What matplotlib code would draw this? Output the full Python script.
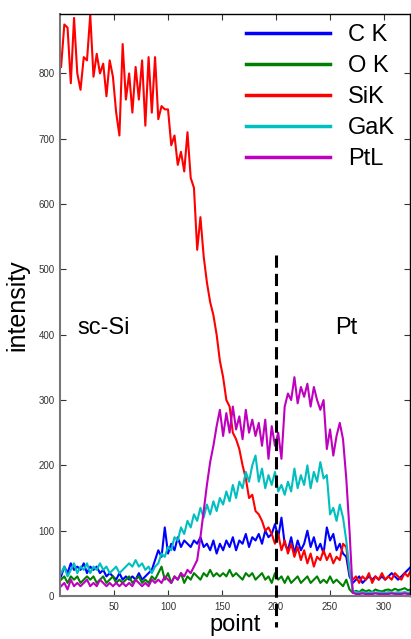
import numpy as np
import matplotlib
matplotlib.use("Agg")
import matplotlib.pyplot as plt

plt.rcParams['font.family'] = ['Liberation Sans', 'DejaVu Sans']

# point index (sampled every 3 points)
point = np.arange(1, 326, 3)

sik = [810, 875, 870, 785, 885, 800, 775, 825, 820, 890,
       795, 830, 800, 815, 765, 820, 795, 740, 705, 845,
       760, 800, 740, 810, 760, 820, 720, 825, 740, 825,
       730, 750, 745, 745, 690, 705, 660, 680, 650, 710,
       640, 625, 530, 580, 520, 480, 450, 430, 400, 360,
       335, 300, 290, 250, 240, 225, 200, 180, 150, 155,
       130, 125, 115, 100, 105, 95, 80, 95, 70, 85,
       65, 80, 60, 75, 55, 70, 50, 65, 45, 60,
       55, 70, 55, 65, 50, 60, 55, 80, 75, 35,
       25, 30, 20, 30, 25, 35, 20, 30, 25, 35,
       25, 30, 25, 35, 30, 25, 35, 30, 40]

ck = [30, 45, 35, 50, 40, 45, 40, 50, 35, 45,
      40, 45, 35, 40, 30, 35, 30, 25, 35, 25,
      30, 25, 30, 25, 35, 25, 30, 35, 40, 55,
      70, 60, 105, 65, 80, 70, 90, 75, 85, 80,
      75, 85, 80, 90, 75, 80, 70, 85, 65, 80,
      70, 85, 75, 90, 70, 85, 80, 95, 75, 90,
      85, 95, 80, 100, 90, 95, 110, 90, 120, 80,
      70, 90, 65, 85, 70, 80, 100, 75, 90, 70,
      80, 65, 105, 85, 95, 70, 80, 65, 60, 30,
      20, 25, 30, 20, 25, 30, 25, 30, 25, 30,
      25, 30, 35, 30, 25, 30, 35, 40, 45]

ok = [25, 30, 20, 30, 25, 30, 20, 25, 30, 25,
      30, 20, 25, 30, 20, 25, 30, 20, 25, 20,
      25, 30, 20, 25, 30, 20, 25, 20, 30, 25,
      35, 45, 25, 35, 20, 30, 25, 35, 20, 30,
      25, 35, 30, 25, 35, 30, 40, 30, 35, 30,
      35, 30, 40, 30, 35, 30, 25, 35, 30, 35,
      25, 30, 35, 25, 30, 20, 35, 25, 30, 20,
      30, 20, 25, 30, 20, 25, 30, 20, 25, 30,
      20, 25, 20, 30, 20, 25, 20, 15, 25, 10,
      5, 8, 6, 10, 7, 9, 6, 10, 8, 7,
      9, 10, 8, 11, 9, 10, 12, 9, 10]

gak = [35, 45, 30, 40, 50, 35, 45, 40, 50, 35,
       45, 40, 50, 40, 45, 35, 40, 45, 35, 40,
       45, 50, 45, 55, 45, 50, 40, 45, 35, 45,
       50, 65, 60, 75, 70, 90, 85, 105, 95, 115,
       105, 125, 115, 135, 120, 140, 125, 145, 130, 150,
       140, 160, 145, 170, 150, 175, 165, 190, 175, 200,
       215, 175, 195, 165, 185, 170, 190, 160, 170, 155,
       175, 160, 195, 165, 185, 170, 200, 165, 190, 175,
       205, 180, 185, 125, 135, 115, 140, 120, 85, 40,
       8, 6, 5, 6, 5, 5, 6, 5, 6, 5,
       5, 6, 5, 5, 6, 5, 6, 5, 6]

ptl = [15, 20, 10, 25, 15, 20, 15, 20, 25, 15,
       20, 15, 25, 20, 15, 20, 15, 20, 15, 20,
       15, 20, 15, 25, 20, 15, 20, 15, 25, 20,
       25, 20, 30, 25, 20, 30, 25, 35, 30, 40,
       35, 45, 55, 90, 130, 170, 205, 230, 260, 285,
       245, 280, 250, 290, 255, 275, 240, 285, 250, 270,
       245, 265, 230, 270, 210, 260, 230, 250, 210, 290,
       310, 300, 335, 295, 320, 305, 325, 290, 320, 300,
       285, 300, 225, 255, 215, 245, 265, 240, 180, 100,
       5, 3, 3, 4, 3, 3, 3, 4, 3, 3,
       3, 3, 4, 3, 3, 3, 4, 3, 3]

labels = ['C K', 'O K', 'SiK', 'GaK', 'PtL']
colors = ['#0000ff', '#008000', '#ff0000', '#00bfbf', '#bf00bf']
series = [ck, ok, sik, gak, ptl]

W, H = 411, 639
fig = plt.figure(figsize=(W / 100, H / 100), dpi=100)
ax = fig.add_axes([60 / W, 43 / H, 350 / W, 582 / H])

for s, c, lab in zip(series, colors, labels):
    ax.plot(point, s, color=c, lw=1.5, label=lab)

ax.set_xlim(0, 324)
ax.set_ylim(0, 891)
ax.set_xticks([50, 100, 150, 200, 250, 300])
ax.set_yticks([0, 100, 200, 300, 400, 500, 600, 700, 800])
ax.tick_params(direction='in', length=4, labelsize=7, colors='#333333',
               top=True, right=True, pad=4)
for side in ['left', 'bottom']:
    ax.spines[side].set_color('#777777')
    ax.spines[side].set_linewidth(1.5)
for side in ['top', 'right']:
    ax.spines[side].set_color('black')
    ax.spines[side].set_linewidth(1.0)

# dashed interface line
ax.plot([200, 200], [522, -47], color='black', lw=2.2, ls=(0, (4, 2)),
        clip_on=False, zorder=5)

ax.text(16.5, 410, 'sc-Si', fontsize=17, ha='left', va='center')
ax.text(254.5, 410, 'Pt', fontsize=17, ha='left', va='center')

ax.set_ylabel('intensity', fontsize=18, labelpad=6)
ax.set_xlabel('point', fontsize=17, labelpad=2)

leg = ax.legend(loc='upper left', bbox_to_anchor=(246 / W, 1 - 24 / H),
                bbox_transform=fig.transFigure, frameon=False, fontsize=17,
                handlelength=3.56, handletextpad=0.76, labelspacing=0.38,
                borderpad=0, borderaxespad=0)
for ln in leg.get_lines():
    ln.set_linewidth(2.5)

fig.savefig('out.png', dpi=100)
